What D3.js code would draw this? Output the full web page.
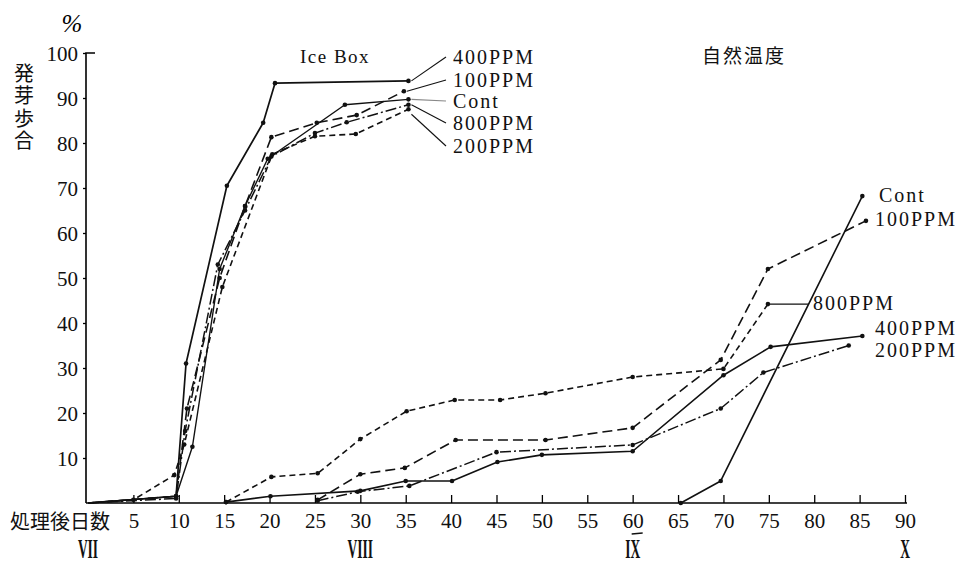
<!DOCTYPE html>
<html>
<head>
<meta charset="utf-8">
<script src="https://cdn.jsdelivr.net/npm/d3@7"></script>
<style>
  body { margin: 0; background: #fff; }
  svg { display: block; }
</style>
</head>
<body>
<script>
// Germination rate (%) against days after treatment: [day, percent]
// Ice Box group
const ice400  = [[0,0],[9.7,1.5],[10.8,31],[15.3,70.5],[19.3,84.5],[20.6,93.3],[35.3,93.8]];
const ice100  = [[0,0],[9.7,1.5],[10.9,21],[14.5,50],[17.3,66],[20.2,81.3],[25.2,84.5],[29.6,86.2],[34.8,91.5]];
const iceCont = [[0,0],[9.7,1.5],[11.5,12.5],[14.5,52],[17.3,66],[19.8,76.5],[28.3,88.5],[35.3,89.7]];
const ice800  = [[0,0],[9.7,1],[10.7,16],[14.3,53],[17.3,65],[20.2,77],[25,82.2],[28.5,84.6],[35.3,88.5]];
const ice200  = [[0,0],[5,0.7],[9.5,6.2],[10.6,13],[14.8,48],[20.3,77.5],[25,81.5],[29.5,82],[35.3,87.5]];

// Natural temperature group
const natCont = [[65.3,0],[69.7,4.9],[85.3,68.2]];
const nat100  = [[25.3,0.7],[30,6.4],[34.9,7.8],[40.5,14],[50.4,14],[60,16.7],[69.7,31.8],[74.9,52],[85.7,62.7]];
const nat800  = [[15.2,0.2],[20.2,5.8],[25.3,6.6],[30,14.2],[35.1,20.4],[40.4,22.9],[45.4,22.9],[50.4,24.4],[60,28],[70,29.8],[74.9,44.2]];
const nat400  = [[15.2,0.2],[20.1,1.5],[30,2.7],[35,4.9],[40.1,4.9],[45.1,9.1],[50,10.7],[60,11.5],[70,28.4],[75.2,34.7],[85.3,37.1]];
const nat200  = [[25.3,0.5],[29.7,2.5],[35.4,3.8],[45,11.3],[60,12.9],[69.7,21],[74.4,29],[83.8,35]];

const seriesNames = ["400PPM", "100PPM", "Cont", "800PPM", "200PPM"];

const xTicks = [5,10,15,20,25,30,35,40,45,50,55,60,65,70,75,80,85,90];
const yTicks = [10,20,30,40,50,60,70,80,90,100];
const monthDays = [0, 30, 60, 90];
const monthLabels = ["VII", "VIII", "IX", "X"];

const W = 968, H = 563;
const serif = "'Liberation Serif', 'DejaVu Serif', serif";
const cjk = "'Noto Sans CJK JP', 'Noto Sans CJK SC', sans-serif";

const svg = d3.select("body").append("svg").attr("width", W).attr("height", H);

const x = d3.scaleLinear().domain([0, 90]).range([88, 905]);
const y = d3.scaleLinear().domain([0, 100]).range([503, 53]);

// line styles
const dash = {
  solid: null,
  long: "10,5",
  short: "6,4",
  dashdot: "11,3,2,3"
};

const iceGroup = [
  { data: ice400,  dash: dash.solid,   w: 1.7 },
  { data: ice100,  dash: dash.long,    w: 1.6 },
  { data: iceCont, dash: dash.solid,   w: 1.4 },
  { data: ice800,  dash: dash.dashdot, w: 1.5 },
  { data: ice200,  dash: dash.short,   w: 1.6 }
];
const natGroup = [
  { data: natCont, dash: dash.solid,   w: 1.6 },
  { data: nat100,  dash: dash.long,    w: 1.6 },
  { data: nat800,  dash: dash.short,   w: 1.6 },
  { data: nat400,  dash: dash.solid,   w: 1.6 },
  { data: nat200,  dash: dash.dashdot, w: 1.5 }
];

// axes
const xAxis = d3.axisBottom(x).tickValues(xTicks).tickSize(-8).tickPadding(10).tickFormat(d3.format("d"));
const gx = svg.append("g").attr("transform", `translate(0,${y(0)})`).call(xAxis);
gx.select(".domain").attr("d", `M${x(0) - 2},0H${x(90) + 2}`).attr("stroke-width", 1.6);
gx.selectAll(".tick line").attr("stroke-width", 1.3);
gx.selectAll(".tick text").attr("font-family", serif).attr("font-size", 21).attr("fill", "#111");

const yAxis = d3.axisLeft(y).tickValues(yTicks).tickSize(3).tickPadding(5).tickFormat(d3.format("d"));
const gy = svg.append("g").attr("transform", `translate(${x(0) - 2},0)`).call(yAxis);
gy.select(".domain").attr("d", `M0,${y(0)}V${y(100)}H9`).attr("stroke-width", 1.6);
gy.selectAll(".tick line").attr("stroke-width", 1.3);
gy.selectAll(".tick text").attr("font-family", serif).attr("font-size", 21).attr("fill", "#111")
  .attr("dy", "0.34em");

// axis titles
svg.append("text").attr("x", 72).attr("y", 32).attr("text-anchor", "middle")
  .attr("font-family", serif).attr("font-style", "italic").attr("font-size", 25).text("%");

svg.append("text")
  .attr("x", 24).attr("y", 63)
  .attr("font-family", cjk).attr("font-size", 20).attr("fill", "#111")
  .style("writing-mode", "vertical-rl")
  .attr("letter-spacing", 2.5)
  .text("発芽歩合");

svg.append("text").attr("x", 10).attr("y", 529).attr("font-family", cjk).attr("font-size", 20)
  .attr("fill", "#111").text("処理後日数");

// month numerals under the day axis
monthDays.forEach((d, i) => {
  svg.append("text")
    .attr("transform", `translate(${x(d)},558) scale(0.5,1)`)
    .attr("text-anchor", "middle")
    .attr("font-family", serif).attr("font-size", 27).attr("font-weight", "bold").attr("fill", "#111")
    .text(monthLabels[i]);
});
svg.append("line")
  .attr("x1", x(60) - 1).attr("x2", x(60) + 10).attr("y1", 534).attr("y2", 533)
  .attr("stroke", "#111").attr("stroke-width", 1.3);

// group titles
svg.append("text").attr("x", 300).attr("y", 63).attr("font-family", serif).attr("font-size", 19)
  .attr("letter-spacing", 1.5).attr("fill", "#111").text("Ice Box");
svg.append("text").attr("x", 702).attr("y", 63).attr("font-family", cjk).attr("font-size", 19)
  .attr("letter-spacing", 2).attr("fill", "#111").text("自然温度");

// series
const line = d3.line().x(d => x(d[0])).y(d => y(d[1]));
function drawGroup(group) {
  group.forEach(s => {
    svg.append("path").datum(s.data)
      .attr("d", line).attr("fill", "none").attr("stroke", "#111")
      .attr("stroke-width", s.w).attr("stroke-dasharray", s.dash)
      .attr("stroke-linejoin", "round");
    svg.append("g").selectAll("circle").data(s.data.filter(d => d[1] > 0.1 || d[0] > 0)).join("circle")
      .attr("cx", d => x(d[0])).attr("cy", d => y(d[1])).attr("r", 2.3).attr("fill", "#111");
  });
}
drawGroup(iceGroup);
drawGroup(natGroup);

// Ice Box legend with leader lines
const iceLabelY = [57, 80, 101, 123, 146];
iceGroup.forEach((s, i) => {
  const last = s.data[s.data.length - 1];
  svg.append("line")
    .attr("x1", x(last[0]) + 3).attr("y1", y(last[1]) + (i === 4 ? 5 : 0))
    .attr("x2", 446).attr("y2", iceLabelY[i])
    .attr("stroke", i === 2 ? "#888" : "#111").attr("stroke-width", 1.1);
  svg.append("text").attr("x", 453).attr("y", iceLabelY[i]).attr("dy", "0.35em")
    .attr("font-family", serif).attr("font-size", 20).attr("letter-spacing", 2)
    .attr("fill", "#111").text(seriesNames[i]);
});

// Natural temperature labels
const natLabels = ["Cont", "100PPM", "800PPM", "400PPM", "200PPM"];
const natLabelPos = [[879, 195], [875, 219], [813, 303], [875, 328], [875, 350]];
natGroup.forEach((s, i) => {
  svg.append("text").attr("x", natLabelPos[i][0]).attr("y", natLabelPos[i][1]).attr("dy", "0.35em")
    .attr("font-family", serif).attr("font-size", 20).attr("letter-spacing", 2)
    .attr("fill", "#111").text(natLabels[i]);
});
// leader for 800PPM
{
  const last = nat800[nat800.length - 1];
  svg.append("line")
    .attr("x1", x(last[0]) + 2).attr("y1", y(last[1]))
    .attr("x2", 809).attr("y2", y(last[1]))
    .attr("stroke", "#111").attr("stroke-width", 1.1);
}
</script>
</body>
</html>
